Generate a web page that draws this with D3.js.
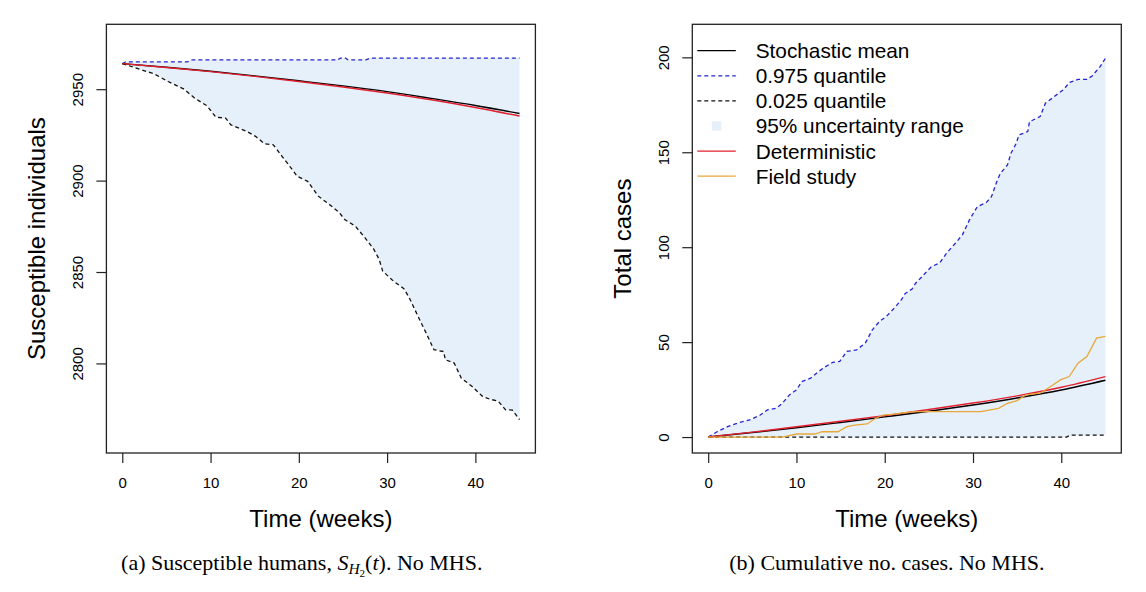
<!DOCTYPE html>
<html>
<head>
<meta charset="utf-8">
<script src="https://cdn.jsdelivr.net/npm/d3@7"></script>
<style>
  body { margin: 0; background: #fff; }
  text { font-family: "Liberation Sans", Arial, sans-serif; fill: #000; }
  .cap { font-family: "Liberation Serif", "Times New Roman", serif; }
</style>
</head>
<body>
<div id="chart"></div>
<script>
// time grid for the smooth curves (weeks)
var smoothT = [0, 5, 10, 15, 20, 25, 30, 35, 40, 45];

// (a) susceptible humans
var suscMean = [2964, 2962.0, 2959.8, 2957.3, 2954.6, 2951.8, 2948.7, 2945.0, 2941.1, 2936.7];
var suscDet = [2964, 2961.9, 2959.6, 2957.0, 2954.2, 2951.2, 2947.9, 2944.2, 2940.0, 2935.3];
var suscUpper = [[0, 2964], [0.4, 2965], [7.4, 2965], [7.8, 2966], [24.4, 2966], [24.7, 2967], [25.3, 2967],
  [25.6, 2966], [27.6, 2966], [28.1, 2967], [45, 2967]];
var suscLower = [[0, 2964], [3.6, 2958.4], [5.2, 2954.2], [7.0, 2950], [8.2, 2945.1], [9.6, 2940.9],
  [10.6, 2934.7], [11.7, 2934.2], [12.3, 2930.5], [14.1, 2926.9], [15.1, 2924.2], [16.1, 2920.2],
  [17.1, 2919.6], [18.1, 2913.3], [19.4, 2905.1], [19.8, 2902.4], [21.0, 2899.6], [22.2, 2891.5],
  [23.6, 2886.4], [24.6, 2882.4], [25.2, 2878.7], [26.4, 2875.1], [27.5, 2868.7], [28.5, 2862.4],
  [29.1, 2856.9], [29.5, 2850.5], [30.7, 2845.1], [31.9, 2840.9], [32.5, 2836], [33.7, 2823.8],
  [34.7, 2813.8], [35.3, 2807.5], [36.4, 2806.5], [36.6, 2802], [37.6, 2800.2], [38.4, 2792],
  [39.6, 2787.5], [40.8, 2782], [41.6, 2780.5], [42.6, 2779.3], [43.4, 2774.7], [44.2, 2774.4], [45, 2769.3]];
var suscTicks = [2800, 2850, 2900, 2950];

// (b) cumulative cases
var casesMean = [0, 2.4, 4.9, 7.7, 10.6, 13.6, 16.9, 20.6, 24.8, 29.9];
var casesDet = [0, 2.6, 5.4, 8.3, 11.3, 14.5, 17.9, 21.7, 26.2, 31.8];
var casesUpper = [[0, 0], [1.0, 2.8], [2.2, 5.5], [3.5, 7.6], [4.7, 9.0], [5.9, 11.6], [6.7, 14.3], [7.7, 15.1],
  [8.4, 17.8], [9.2, 22.2], [10.0, 24.8], [10.6, 29.2], [11.6, 31.0], [12.5, 34.5], [13.3, 37.1], [14.1, 39.3],
  [14.9, 39.8], [15.7, 45.1], [16.8, 45.9], [17.8, 49.5], [18.6, 56.5], [19.4, 60.9], [20.2, 63.6], [21.1, 68],
  [21.9, 72.4], [22.3, 75.5], [23.1, 78], [23.5, 81], [24.3, 84.9], [25.3, 89.8], [26.2, 91.6], [27.0, 96.8],
  [28.0, 102.1], [28.8, 106.5], [29.6, 114.4], [30.5, 121.4], [31.5, 123.5], [32.1, 126.7], [32.7, 134.6],
  [33.1, 138.9], [33.9, 143.3], [34.3, 149.5], [34.9, 154.7], [35.2, 159.1], [36.2, 160.9], [36.4, 166.1],
  [37.6, 168.8], [38.2, 175.8], [39.2, 179.3], [40.3, 183.2], [40.9, 186.7], [41.9, 188.4], [42.9, 188.4],
  [43.5, 190.2], [44.4, 195.1], [45, 199.5]];
var casesLower = [[0, 0], [40.6, 0], [41.0, 1], [45, 1]];
var fieldStudy = [[0, 0], [8.4, 0], [10, 1.6], [12.1, 1.6], [12.9, 2.8], [14.7, 2.8], [15.7, 5.5], [16.6, 6.3],
  [18, 6.9], [19, 9.9], [19.8, 11.6], [21.1, 12.1], [22.3, 12.9], [23.5, 13.4], [30.9, 13.4], [32.9, 15.1],
  [33.9, 17.8], [35, 19.2], [36, 22.2], [37.6, 23.1], [38.8, 26.6], [39.9, 30.1], [40.9, 31.9], [41.9, 38.9],
  [42.9, 42.4], [44, 52.1], [45, 53]];
var casesTicks = [0, 50, 100, 150, 200];

var timeTicks = [0, 10, 20, 30, 40];
var legendLabels = ["Stochastic mean", "0.975 quantile", "0.025 quantile", "95% uncertainty range",
  "Deterministic", "Field study"];

var FILL = "#e6f0fb", BLUE = "#2424d0", RED = "#e3202e", ORANGE = "#e8a838";

var svg = d3.select("#chart")
  .append("svg")
  .attr("width", 1146)
  .attr("height", 592);

function panel(opt) {
  var x = d3.scaleLinear().domain([-1.8, 46.8]).range([opt.left, opt.left + 429]);
  var y = d3.scaleLinear().domain(opt.ydom).range([453, 24.3]);
  var g = svg.append("g");

  var line = d3.line().x(d => x(d[0])).y(d => y(d[1]));
  var smooth = d3.line().x((d, i) => x(smoothT[i])).y(d => y(d)).curve(d3.curveMonotoneX);

  // uncertainty band
  var band = opt.upper.concat(opt.lower.slice().reverse());
  g.append("path")
    .attr("d", line(band) + "Z")
    .attr("fill", FILL)
    .attr("stroke", "none");

  g.append("path")
    .attr("d", line(opt.upper))
    .attr("fill", "none")
    .attr("stroke", BLUE)
    .attr("stroke-width", 1.3)
    .attr("stroke-dasharray", "4,3");

  g.append("path")
    .attr("d", line(opt.lower))
    .attr("fill", "none")
    .attr("stroke", "#111")
    .attr("stroke-width", 1.3)
    .attr("stroke-dasharray", "4,3");

  g.append("path")
    .attr("d", smooth(opt.mean))
    .attr("fill", "none")
    .attr("stroke", "#000")
    .attr("stroke-width", 1.4);

  g.append("path")
    .attr("d", smooth(opt.det))
    .attr("fill", "none")
    .attr("stroke", RED)
    .attr("stroke-width", 1.4);

  if (opt.field) {
    g.append("path")
      .attr("d", line(opt.field))
      .attr("fill", "none")
      .attr("stroke", ORANGE)
      .attr("stroke-width", 1.3);
  }

  // box
  g.append("rect")
    .attr("x", opt.left).attr("y", 24.3)
    .attr("width", 429).attr("height", 453 - 24.3)
    .attr("fill", "none")
    .attr("stroke", "#222")
    .attr("stroke-width", 1.3);

  var xa = g.append("g")
    .attr("transform", "translate(0,453)")
    .call(d3.axisBottom(x).tickValues(timeTicks).tickSize(10).tickFormat(d3.format("d")));
  xa.select(".domain").remove();
  xa.selectAll("line").attr("stroke", "#222").attr("stroke-width", 1.2);
  xa.selectAll("text")
    .attr("y", 34.6).attr("dy", null)
    .attr("font-size", 15)
    .attr("font-family", "Liberation Sans, Arial, sans-serif");

  var ya = g.append("g")
    .attr("transform", "translate(" + opt.left + ",0)")
    .call(d3.axisLeft(y).tickValues(opt.ticks).tickSize(10).tickFormat(d3.format("d")));
  ya.select(".domain").remove();
  ya.selectAll("line").attr("stroke", "#222").attr("stroke-width", 1.2);
  ya.selectAll("text")
    .attr("x", 0).attr("y", -23.3).attr("dy", null)
    .attr("text-anchor", "middle")
    .attr("transform", "rotate(-90)")
    .attr("font-size", 15)
    .attr("font-family", "Liberation Sans, Arial, sans-serif");

  g.append("text")
    .attr("x", opt.left + 214.5).attr("y", 526.5)
    .attr("text-anchor", "middle")
    .attr("font-size", 24)
    .text("Time (weeks)");

  g.append("text")
    .attr("transform", "translate(" + (opt.left - 61.4) + ",238.6) rotate(-90)")
    .attr("text-anchor", "middle")
    .attr("font-size", 24)
    .text(opt.ylabel);

  return g;
}

panel({ left: 106.4, ydom: [2751, 2985.5], ticks: suscTicks, mean: suscMean, det: suscDet,
  upper: suscUpper, lower: suscLower, ylabel: "Susceptible individuals" });

var right = panel({ left: 692.3, ydom: [-8.4, 217.4], ticks: casesTicks, mean: casesMean, det: casesDet,
  upper: casesUpper, lower: casesLower, field: fieldStudy, ylabel: "Total cases" });

// legend
var leg = right.append("g").attr("id", "legend");
var rows = leg.selectAll("g")
  .data(legendLabels)
  .enter()
  .append("g")
  .attr("transform", (d, i) => "translate(697.3," + (50.7 + i * 25.1) + ")");

rows.append("text")
  .attr("x", 58.4).attr("y", 7.4)
  .attr("font-size", 20.8)
  .text(d => d);

var legStyle = [
  { stroke: "#000", dash: null },
  { stroke: BLUE, dash: "4,3" },
  { stroke: "#111", dash: "4,3" },
  null,
  { stroke: RED, dash: null },
  { stroke: ORANGE, dash: null }
];
rows.each(function (d, i) {
  var r = d3.select(this);
  if (legStyle[i]) {
    r.append("line")
      .attr("x1", 0).attr("x2", 38.5)
      .attr("y1", 0).attr("y2", 0)
      .attr("stroke", legStyle[i].stroke)
      .attr("stroke-width", 1.3)
      .attr("stroke-dasharray", legStyle[i].dash);
  } else {
    r.append("rect")
      .attr("x", 14.5).attr("y", -4.8)
      .attr("width", 9.5).attr("height", 9.5)
      .attr("fill", FILL);
  }
});

// captions
var capA = svg.append("text")
  .attr("class", "cap")
  .attr("x", 301.8).attr("y", 570)
  .attr("text-anchor", "middle")
  .attr("font-size", 22);
capA.append("tspan").text("(a) Susceptible humans, ");
capA.append("tspan").attr("font-style", "italic").text("S");
capA.append("tspan").attr("font-style", "italic").attr("font-size", 15.5).attr("dy", 4).text("H");
capA.append("tspan").attr("font-size", 11).attr("dy", 3).text("2");
capA.append("tspan").attr("dy", -7).text("(");
capA.append("tspan").attr("font-style", "italic").text("t");
capA.append("tspan").text("). No MHS.");

svg.append("text")
  .attr("class", "cap")
  .attr("x", 886.9).attr("y", 570)
  .attr("text-anchor", "middle")
  .attr("font-size", 22)
  .text("(b) Cumulative no. cases. No MHS.");
</script>
</body>
</html>
